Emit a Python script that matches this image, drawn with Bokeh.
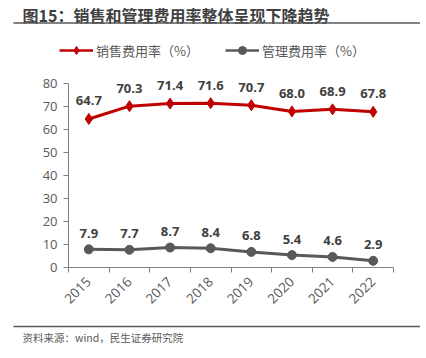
import math
from bokeh.plotting import figure
from bokeh.layouts import column
from bokeh.models import (Range1d, FixedTicker, Legend, LegendItem,
                          ColumnDataSource)
from bokeh.core.properties import value
from bokeh.embed import file_html
from bokeh.resources import INLINE

years = ["2015", "2016", "2017", "2018", "2019", "2020", "2021", "2022"]
sales_rate = [64.7, 70.3, 71.4, 71.6, 70.7, 68.0, 68.9, 67.8]
admin_rate = [7.9, 7.7, 8.7, 8.4, 6.8, 5.4, 4.6, 2.9]
y_ticks = [0, 10, 20, 30, 40, 50, 60, 70, 80]

title_text = "图15：销售和管理费用率整体呈现下降趋势"
source_text = "资料来源：wind，民生证券研究院"
sales_name = "销售费用率（%）"
admin_name = "管理费用率（%）"

RED = "#C00000"
GRAY = "#595959"
TXT = "#404040"
RULE = "#595959"
AX = "#7f7f7f"
CJK = "Noto Sans CJK SC"
NUM = "Open Sans, Noto Sans CJK SC"

W = 420
HA, HC = 62, 32


def blank(h):
    f = figure(width=W, height=h, output_backend="svg", toolbar_location=None,
               x_range=Range1d(0, W), y_range=Range1d(h, 0),
               x_axis_location=None, y_axis_location=None, min_border=0,
               frame_align=False)
    f.outline_line_color = None
    f.grid.visible = False
    f.background_fill_color = "white"
    f.border_fill_color = "white"
    return f


# ---- header: title, rule, legend ----
pa = blank(HA)
pa.text(x=[22], y=[14], text=[title_text], text_font=value(CJK),
        text_font_size="16px", text_font_style="bold", text_color=TXT,
        text_baseline="middle", text_align="left")
pa.line(x=[13, W], y=[22.5, 22.5], line_color=RULE, line_width=1.5)
la1 = pa.line(x=[-100, -90], y=[-100, -100], line_color=RED, line_width=2.5)
sa1 = pa.scatter(x=[-100], y=[-100], marker="diamond", size=8, fill_color=RED, line_color=RED)
la2 = pa.line(x=[-100, -90], y=[-100, -100], line_color=GRAY, line_width=2.5)
sa2 = pa.scatter(x=[-100], y=[-100], marker="circle", size=8, fill_color=GRAY, line_color=GRAY)
legend = Legend(items=[LegendItem(label=sales_name, renderers=[la1, sa1]),
                       LegendItem(label=admin_name, renderers=[la2, sa2])],
                location=(59, HA - 60), orientation="horizontal",
                padding=0, margin=0, spacing=26, glyph_width=34,
                glyph_height=20, label_standoff=3, label_height=20,
                label_text_font=CJK, label_text_font_size="13px",
                label_text_color=GRAY, label_text_baseline="middle",
                border_line_color=None, background_fill_alpha=0)
pa.add_layout(legend, "center")

# ---- main chart ----
xs = list(range(len(years)))
src = ColumnDataSource(dict(
    x=xs, sales=sales_rate, admin=admin_rate,
    sales_lbl=[f"{v:.1f}" for v in sales_rate],
    admin_lbl=[f"{v:.1f}" for v in admin_rate],
))

TOP, FRAME_H, BOT = 3, 202, 51
p = figure(width=W, height=TOP + FRAME_H + BOT, output_backend="svg",
           toolbar_location=None, frame_align=False,
           x_range=Range1d(-0.5, len(years) - 0.5), y_range=Range1d(0, 88),
           min_border_left=68, min_border_right=W - 393, min_border_top=TOP,
           min_border_bottom=BOT)
p.outline_line_color = None
p.grid.visible = False
p.background_fill_color = "white"
p.border_fill_color = "white"

xa = p.xaxis[0]
xa.ticker = FixedTicker(ticks=xs, minor_ticks=[i - 0.5 for i in range(len(years) + 1)])
xa.major_label_overrides = {i: y for i, y in enumerate(years)}
xa.major_label_orientation = math.pi / 4
xa.major_tick_out = 0
xa.major_tick_in = 0
xa.minor_tick_out = 5
xa.minor_tick_in = 0
xa.minor_tick_line_color = AX
xa.axis_line_color = AX
xa.major_label_text_font = NUM
xa.major_label_text_font_size = "13.5px"
xa.major_label_text_color = GRAY
xa.major_label_standoff = 7

ya = p.yaxis[0]
ya.ticker = FixedTicker(ticks=y_ticks, minor_ticks=[])
ya.bounds = (0, 80)
ya.major_tick_out = 5
ya.major_tick_in = 0
ya.major_tick_line_color = AX
ya.axis_line_color = AX
ya.major_label_text_font = NUM
ya.major_label_text_font_size = "13px"
ya.major_label_text_color = GRAY
ya.major_label_standoff = 6

p.line("x", "sales", source=src, line_color=RED, line_width=3)
p.scatter("x", "sales", source=src, marker="diamond", size=11,
          fill_color=RED, line_color=RED)
p.line("x", "admin", source=src, line_color=GRAY, line_width=3)
p.scatter("x", "admin", source=src, marker="circle", size=9,
          fill_color=GRAY, line_color=GRAY)

p.text("x", "sales", text="sales_lbl", source=src, y_offset=-18,
       text_align="center", text_baseline="middle", text_font=value(NUM),
       text_font_size="13px", text_font_style="bold", text_color=TXT)
p.text("x", "admin", text="admin_lbl", source=src, y_offset=-16,
       text_align="center", text_baseline="middle", text_font=value(NUM),
       text_font_size="13px", text_font_style="bold", text_color=TXT)

# ---- footer: rule and source ----
pc = blank(HC)
pc.line(x=[13, W], y=[8, 8], line_color=RULE, line_width=1.5)
pc.text(x=[22], y=[19], text=[source_text], text_font=value(CJK),
        text_font_size="10.5px", text_color=GRAY,
        text_baseline="middle", text_align="left")

layout = column(pa, p, pc, spacing=0)
open("out.html", "w").write(file_html(layout, INLINE))
